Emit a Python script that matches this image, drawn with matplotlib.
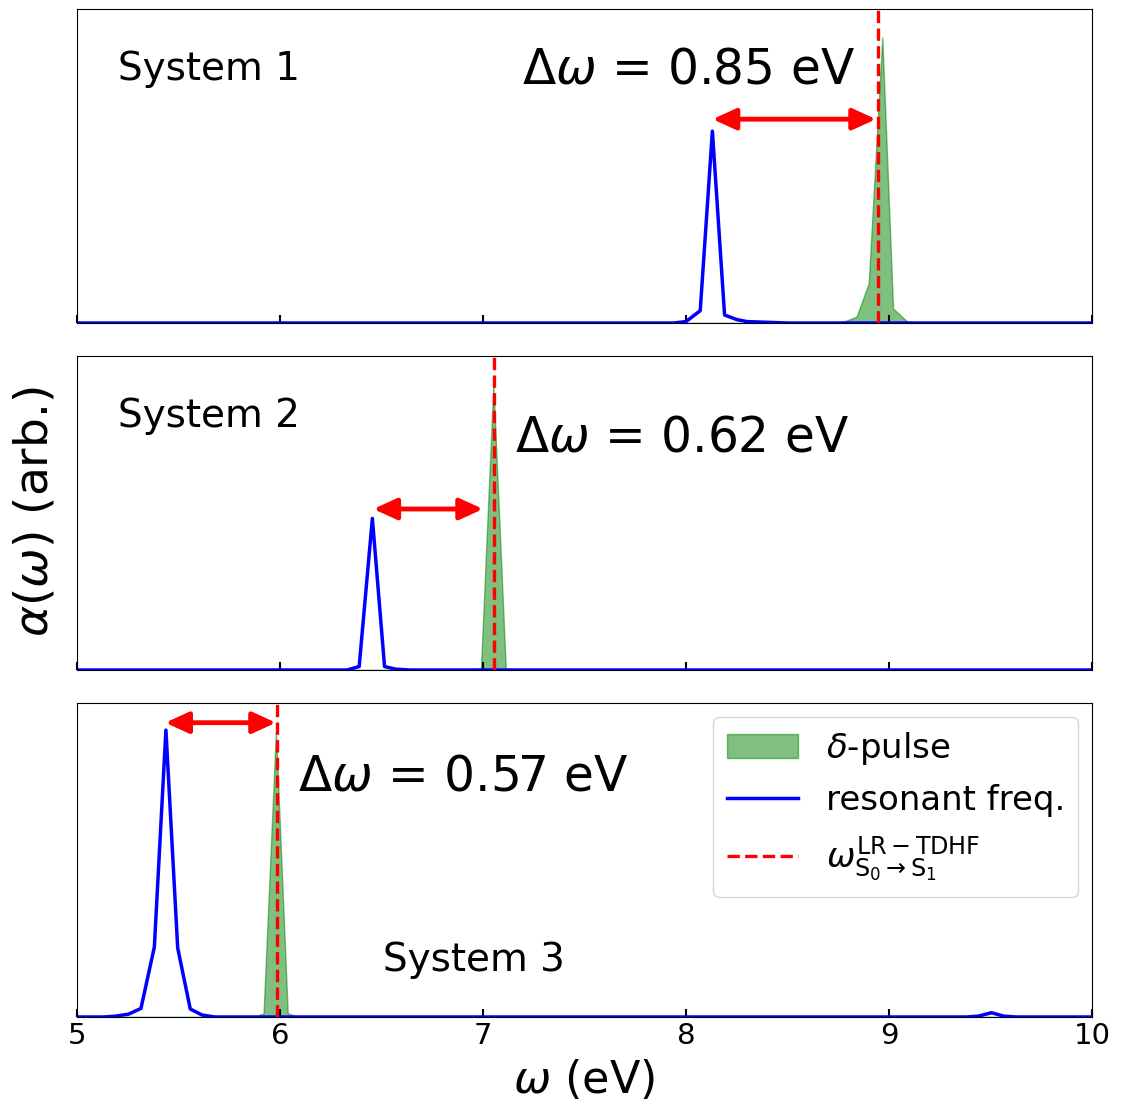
import matplotlib
matplotlib.use("Agg")
import matplotlib.pyplot as plt

# ---- data ----
sys1_blue_x = [5.0, 7.94, 8.00, 8.07, 8.13, 8.19, 8.25, 8.30, 8.50, 10.0]
sys1_blue_y = [0.0, 0.0, 0.005, 0.043, 0.672, 0.028, 0.012, 0.005, 0.0, 0.0]
sys1_green_x = [5.0, 8.72, 8.78, 8.84, 8.90, 8.967, 9.02, 9.09, 9.15, 10.0]
sys1_green_y = [0.0, 0.0, 0.006, 0.022, 0.139, 1.0, 0.051, 0.005, 0.0, 0.0]

sys2_blue_x = [5.0, 6.33, 6.39, 6.455, 6.515, 6.57, 6.64, 10.0]
sys2_blue_y = [0.0, 0.0, 0.012, 0.531, 0.012, 0.003, 0.0, 0.0]
sys2_green_x = [5.0, 6.93, 6.99, 7.051, 7.112, 7.17, 10.0]
sys2_green_y = [0.0, 0.0, 0.006, 1.0, 0.006, 0.0, 0.0]

sys3_blue_x = [5.0, 5.13, 5.19, 5.254, 5.315, 5.381, 5.438, 5.496, 5.558, 5.616, 5.68,
               9.38, 9.44, 9.505, 9.565, 9.63, 10.0]
sys3_blue_y = [0.0, 0.0, 0.003, 0.01, 0.03, 0.245, 1.005, 0.242, 0.028, 0.007, 0.0,
               0.0, 0.003, 0.015, 0.003, 0.0, 0.0]
sys3_green_x = [5.0, 5.87, 5.919, 5.98, 6.038, 6.092, 10.0]
sys3_green_y = [0.0, 0.0, 0.013, 1.0, 0.013, 0.0, 0.0]

tdhf_freq = [8.947, 7.054, 5.987]
arrow_start = [8.131, 6.46, 5.435]
arrow_end = [8.936, 7.0, 5.98]
arrow_y = [0.714, 0.564, 1.031]
delta_labels = ["0.85", "0.62", "0.57"]
system_names = ["System 1", "System 2", "System 3"]
xticks = [5, 6, 7, 8, 9, 10]

blue_x = [sys1_blue_x, sys2_blue_x, sys3_blue_x]
blue_y = [sys1_blue_y, sys2_blue_y, sys3_blue_y]
green_x = [sys1_green_x, sys2_green_x, sys3_green_x]
green_y = [sys1_green_y, sys2_green_y, sys3_green_y]

# text placement (data x, axes-fraction y)
sys_pos = [(5.202, 0.774), (5.202, 0.774), (6.507, 0.145)]
delta_pos = [(7.192, 0.764), (7.158, 0.697), (6.089, 0.72)]

fig = plt.figure(figsize=(11.21, 11.04), dpi=100)
left, right = 77 / 1121, 1092 / 1121
panels = [(9, 323), (356, 670), (703, 1017)]
axes = []
for (top, bot) in panels:
    ax = fig.add_axes([left, 1 - bot / 1104, right - left, (bot - top) / 1104])
    axes.append(ax)

for i, ax in enumerate(axes):
    ax.fill_between(green_x[i], 0, green_y[i], color="green", alpha=0.5,
                    label=r"$\delta$-pulse")
    ax.plot(blue_x[i], blue_y[i], color="blue", lw=2.5, label="resonant freq.")
    ax.axvline(tdhf_freq[i], color="red", ls="--", lw=2.4,
               label=r"$\omega^{\mathrm{LR-TDHF}}_{\mathrm{S_0\rightarrow S_1}}$")
    ax.annotate("", xy=(arrow_end[i], arrow_y[i]), xytext=(arrow_start[i], arrow_y[i]),
                arrowprops=dict(arrowstyle="<|-|>,head_length=0.7,head_width=0.32",
                                mutation_scale=20, color="red", lw=3.5,
                                shrinkA=0, shrinkB=0))
    ax.text(sys_pos[i][0], sys_pos[i][1], system_names[i], fontsize=28,
            transform=ax.get_xaxis_transform(), ha="left", va="baseline")
    ax.text(delta_pos[i][0], delta_pos[i][1],
            r"$\Delta\omega$ = " + delta_labels[i] + " eV", fontsize=35,
            transform=ax.get_xaxis_transform(), ha="left", va="baseline")
    ax.set_xlim(5, 10)
    ax.set_ylim(0, 1.1)
    ax.set_yticks([])
    ax.set_xticks(xticks)
    ax.tick_params(axis="x", direction="in", length=6, width=1.5, labelsize=21)
    if i < 2:
        ax.tick_params(axis="x", labelbottom=False)

axes[2].set_xlabel(r"$\omega$ (eV)", fontsize=32, labelpad=6)
axes[2].legend(loc="upper right", fontsize=24.5, handlelength=2.1,
               borderaxespad=0.4)
fig.text(0.031, 1 - 512 / 1104, r"$\alpha(\omega)$ (arb.)", fontsize=34,
         rotation=90, ha="center", va="center")

fig.savefig("out.png", dpi=100)
